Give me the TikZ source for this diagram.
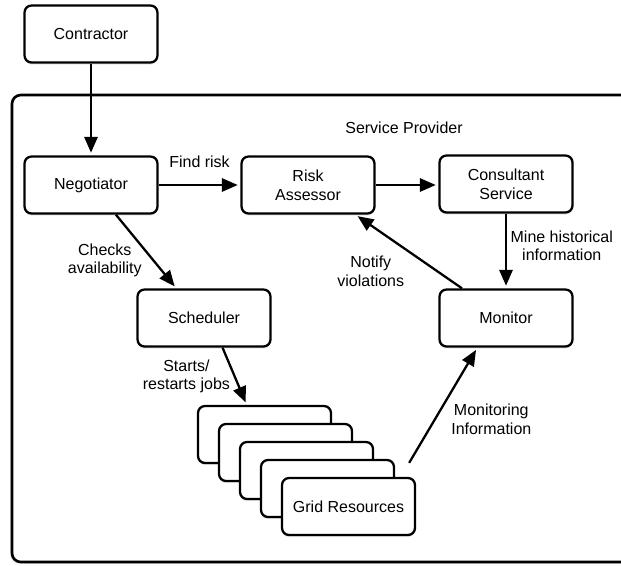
\documentclass[tikz,border=0pt]{standalone}
\usepackage{fontspec}
\setmainfont{Liberation Sans}
\usetikzlibrary{arrows.meta,positioning,calc,shadows}

\begin{document}
\begin{tikzpicture}[
  x=0.02cm, y=-0.02cm,
  blk/.style={draw, fill=white, rounded corners=4pt, line width=1.3pt, minimum width=2.66cm, minimum height=1.14cm,
              align=center, drop shadow={opacity=0.18, shadow xshift=0pt, shadow yshift=-1.2pt}},
  frame/.style={draw, fill=white, line width=1.5pt, rounded corners=5pt,
                drop shadow={opacity=0.18, shadow xshift=-1pt, shadow yshift=-1pt}},
  wire/.style={line width=1.3pt, -{Triangle[length=9pt,width=7.5pt]}, shorten >=1.5pt},
  lbl/.style={align=center, inner sep=2pt},
  every node/.style={font=\fontsize{9.1}{10.6}\selectfont}
]
\useasboundingbox (0,0) rectangle (621,565);
\clip (0,0) rectangle (621,565);

% ---- outside party and the provider frame ----
\node[blk] (contractor) at (91,34) {Contractor};
\draw[frame] (12,95) rectangle (650,562);
\node (sp) at (404,128) {Service Provider};

% ---- top row ----
\node[blk] (neg)  at (91,185)  {Negotiator};
\node[blk] (risk) at (308,185) {Risk\\Assessor};
\node[blk] (cons) at (506,184) {Consultant\\Service};

% ---- middle row ----
\node[blk] (sched) at (204,318) {Scheduler};
\node[blk] (mon)   at (506,318) {Monitor};

% ---- stack of grid resources (back to front) ----
\foreach \i in {0,...,3}
  \node[blk] (grid\i) at (264.5+21*\i,434.5+18*\i) {};
\node[blk] (grid4) at (348.5,506.5) {Grid Resources};
\coordinate (gridout) at ($(grid3.north east)+(14,4)$);

% ---- connectors ----
\draw[wire] (contractor.south) -- (neg.north);
\draw[wire] (neg.east) -- (risk.west) node[lbl,midway,above=7pt]{Find risk};
\draw[wire] (risk.east) -- (risk.east -| cons.west);
\draw[wire] (cons.south) -- (mon.north) node[lbl,pos=0.43,right]{Mine historical\\information};
\draw[wire] (mon.146) -- (risk.-32) node[lbl,midway,below left]{Notify\\violations};
\draw[wire] (neg.-50) -- (sched.133) node[lbl,pos=0.62,left=4pt]{Checks\\availability};
\draw[wire] (sched.-58) -- (grid0.121) node[lbl,midway,left]{Starts/\\restarts jobs};
\draw[wire] (gridout) -- (mon.-134) node[lbl,pos=0.55,below right]{Monitoring\\Information};

\end{tikzpicture}
\end{document}
